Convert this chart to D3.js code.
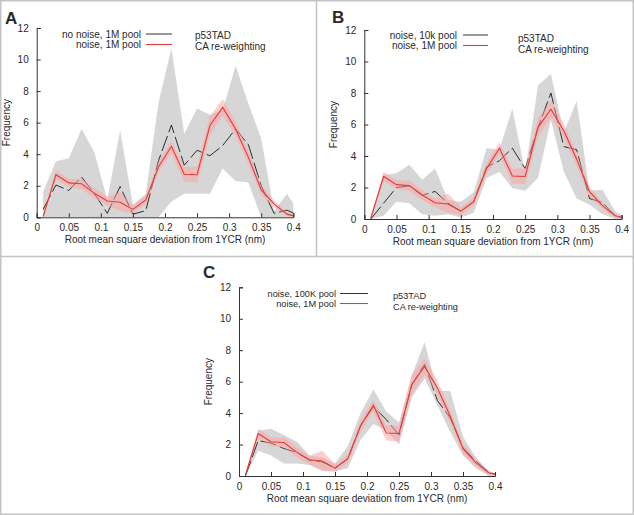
<!DOCTYPE html>
<html><head><meta charset="utf-8">
<script src="https://cdn.jsdelivr.net/npm/d3@7"></script>
<style>
body{margin:0;background:#fff}
svg{display:block}
text{font-family:"Liberation Sans",Arial,Helvetica,sans-serif;fill:#2a2a2a}
</style>
</head><body>
<svg id="chart" width="634" height="515"></svg>
<script>
// ---- data ----
const rmsd = [0.01,0.03,0.05,0.07,0.09,0.11,0.13,0.15,0.17,0.19,0.21,0.23,0.25,0.27,0.29,0.31,0.33,0.35,0.37,0.39,0.41];

// "noise, 1M pool" (same reference series in all panels)
const ref1M     = [0.05,2.7,2.18,2.13,1.52,1.03,0.95,0.5,1.1,3.2,4.5,2.73,2.7,5.82,6.97,5.6,3.8,1.74,0.85,0.2,0];
const ref1MLow  = [0,2.4,1.9,1.8,1.2,0.75,0.4,0.25,0.85,2.85,4.1,2.25,2.2,5.2,6.45,5.15,3.4,1.4,0.65,0.08,0];
const ref1MHigh = [0.12,3.0,2.45,2.45,1.85,1.3,1.6,0.75,1.35,3.55,4.85,3.2,3.2,6.4,7.5,6.05,4.2,2.05,1.05,0.32,0];

// Panel A: "no noise, 1M pool"
const noNoise1M     = [0.5,2.05,1.7,2.55,1.5,0.25,1.95,0.2,0.42,3.6,5.85,3.3,4.25,3.9,4.55,5.6,4.6,2.0,0.25,0.45,0.1];
const noNoise1MLow  = [0,0,0,0,0,0,0,0,0,0,1.0,1.5,1.5,1.5,3.1,2.3,2.2,0,0,0,0];
const noNoise1MHigh = [1.6,3.55,3.75,5.6,4.1,1.1,5.5,0.8,1.5,7.3,10.7,5.3,6.9,6.5,6.8,9.6,7.2,5.0,0.4,1.5,0.3];

// Panel B: "noise, 10k pool"
const noise10k     = [0,1.0,2.0,2.1,1.5,1.75,1.0,0.5,1.1,3.3,3.7,4.5,3.2,5.8,8.0,4.6,4.4,1.3,1.05,0.2,0];
const noise10kLow  = [0,0.2,1.1,1.0,0.3,0.2,0.3,0.1,0.4,2.6,3.0,1.95,1.8,2.6,6.3,3.0,1.3,0.9,0.3,0,0];
const noise10kHigh = [0.1,2.8,2.9,3.45,2.5,3.2,1.2,1.1,1.7,4.5,4.4,7.0,3.0,8.5,9.2,5.5,7.5,1.8,1.85,0.5,0];

// Panel C: "noise, 100K pool"
const noise100k     = [0,2.25,2.1,1.75,1.5,1.0,0.9,0.5,1.1,3.2,4.4,3.6,2.6,5.8,7.1,4.8,3.7,1.8,0.95,0.25,0];
const noise100kLow  = [0,1.6,1.3,0.8,0.8,0.7,0.3,0.3,0.5,2.3,3.3,2.9,2.0,5.0,6.2,4.5,2.8,1.3,0.5,0,0];
const noise100kHigh = [0.1,2.9,3.0,2.6,2.2,1.3,1.2,0.8,1.9,4.0,5.5,4.1,3.4,6.4,8.5,5.4,5.4,2.5,1.2,0.3,0];

const xTicks = [0,0.05,0.1,0.15,0.2,0.25,0.3,0.35,0.4];
const yTicks = [0,2,4,6,8,10,12];
const xTickLabels = ["0","0.05","0.1","0.15","0.2","0.25","0.3","0.35","0.4"];
const xTitle = "Root mean square deviation from 1YCR (nm)";
const yTitle = "Frequency";
const noteLines = ["p53TAD","CA re-weighting"];
const legendA = ["no noise, 1M pool","noise, 1M pool"];
const legendB = ["noise, 10k pool","noise, 1M pool"];
const legendC = ["noise, 100K pool","noise, 1M pool"];
const panelLetters = ["A","B","C"];

// ---- drawing ----
const svg = d3.select("#chart");
svg.append("rect").attr("width",634).attr("height",515).attr("fill","#fff");

// panel frames
const frame = svg.append("g").attr("stroke","#c4c4c4").attr("stroke-width",1.5).attr("fill","none");
frame.append("rect").attr("x",0.75).attr("y",0.75).attr("width",632.5).attr("height",513.5);
frame.append("line").attr("x1",0).attr("x2",634).attr("y1",256.5).attr("y2",256.5);
frame.append("line").attr("x1",316.5).attr("x2",316.5).attr("y1",0).attr("y2",256.5);

const panels = [
  {letter:panelLetters[0], lx:5, ly:24, x0:36.7, x1:293.3, y0:217.3, y1:28,
   black:noNoise1M, low:noNoise1MLow, high:noNoise1MHigh, legend:legendA, fs:10,
   legX:141, legY:34, legDy:10.5, lineX0:146, lineX1:172, noteX:195, noteY:35, noteDy:11, ylabX:10},
  {letter:panelLetters[1], lx:332, ly:23, x0:364.3, x1:621.7, y0:219, y1:30,
   black:noise10k, low:noise10kLow, high:noise10kHigh, legend:legendB, fs:10,
   legX:457, legY:35, legDy:10.5, lineX0:463, lineX1:488, noteX:518, noteY:38, noteDy:11, ylabX:337},
  {letter:panelLetters[2], lx:203, ly:278, x0:239, x1:495, y0:476, y1:287.3,
   black:noise100k, low:noise100kLow, high:noise100kHigh, legend:legendC, fs:9.2,
   legX:336, legY:293.5, legDy:10, lineX0:340, lineX1:368, noteX:393, noteY:296, noteDy:10.5, ylabX:212}
];

panels.forEach((p,i)=>{
  const g = svg.append("g");
  const x = d3.scaleLinear().domain([0,0.4]).range([p.x0,p.x1]);
  const y = d3.scaleLinear().domain([0,12]).range([p.y0,p.y1]);
  const clipId = "clip"+i;
  svg.append("clipPath").attr("id",clipId).append("rect")
    .attr("x",p.x0).attr("y",p.y1-2).attr("width",p.x1-p.x0).attr("height",p.y0-p.y1+2);

  const plot = g.append("g").attr("clip-path",`url(#${clipId})`);
  const area = (lo,hi)=>d3.area().x((d,j)=>x(rmsd[j])).y0((d,j)=>y(lo[j])).y1((d,j)=>y(hi[j]));
  const line = v=>d3.line().x((d,j)=>x(rmsd[j])).y((d,j)=>y(v[j]));

  plot.append("path").datum(rmsd).attr("d",area(p.low,p.high)).attr("fill","#d6d6d6");
  plot.append("path").datum(rmsd).attr("d",line(p.black)).attr("fill","none")
    .attr("stroke","#1a1a1a").attr("stroke-width",0.9).attr("stroke-dasharray","16,4");
  plot.append("path").datum(rmsd).attr("d",area(ref1MLow,ref1MHigh)).attr("fill","rgba(255,160,160,0.5)");
  plot.append("path").datum(rmsd).attr("d",line(ref1M)).attr("fill","none")
    .attr("stroke","#e63a32").attr("stroke-width",1.1);

  // axes
  const xAxis = d3.axisBottom(x).tickValues(xTicks).tickSize(-4).tickPadding(7)
    .tickFormat((d,k)=>xTickLabels[k]);
  const yAxis = d3.axisLeft(y).tickValues(yTicks).tickSize(-4).tickPadding(8);
  const gx = g.append("g").attr("transform",`translate(0,${p.y0})`).call(xAxis);
  const gy = g.append("g").attr("transform",`translate(${p.x0},0)`).call(yAxis);
  [gx,gy].forEach(a=>{
    a.select(".domain").attr("stroke","#333").attr("stroke-width",1);
    a.selectAll(".tick line").attr("stroke","#333");
    a.selectAll("text").attr("font-size",10).attr("fill","#2a2a2a")
      .attr("font-family",'"Liberation Sans",Arial,sans-serif');
  });

  g.append("text").attr("x",(p.x0+p.x1)/2).attr("y",p.y0+26).attr("text-anchor","middle")
    .attr("font-size",10).text(xTitle);
  g.append("text").attr("transform",`translate(${p.ylabX},${(p.y0+p.y1)/2}) rotate(-90)`)
    .attr("text-anchor","middle").attr("font-size",10).text(yTitle);

  g.append("text").attr("x",p.lx).attr("y",p.ly).attr("font-size",17).attr("font-weight","bold")
    .attr("fill","#111").text(p.letter);

  // legend
  p.legend.forEach((t,k)=>{
    const yy = p.legY + k*p.legDy;
    g.append("text").attr("x",p.legX).attr("y",yy).attr("dy","0.35em").attr("text-anchor","end")
      .attr("font-size",p.fs).text(t);
    g.append("line").attr("x1",p.lineX0).attr("x2",p.lineX1).attr("y1",yy).attr("y2",yy)
      .attr("stroke",k===0?"#1a1a1a":"#e63a32").attr("stroke-width",k===0?0.9:1.1);
  });
  noteLines.forEach((t,k)=>{
    g.append("text").attr("x",p.noteX).attr("y",p.noteY+k*p.noteDy).attr("dy","0.35em")
      .attr("font-size",p.fs).text(t);
  });
});
</script>
</body></html>
